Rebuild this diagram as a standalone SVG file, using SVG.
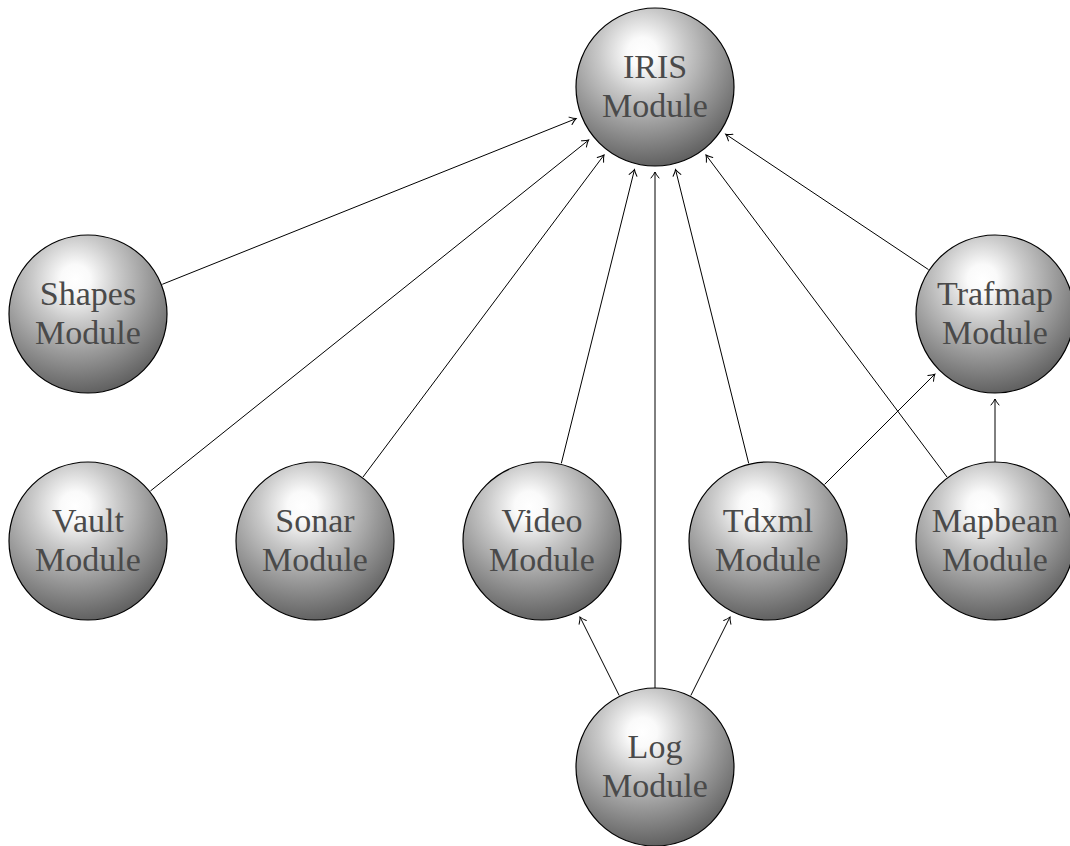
<svg xmlns="http://www.w3.org/2000/svg" width="1070" height="846" viewBox="0 0 1070 846">
<defs>
<radialGradient id="ball" cx="0.42" cy="0.28" r="0.78" fx="0.42" fy="0.28">
<stop offset="0" stop-color="#ffffff"/>
<stop offset="0.12" stop-color="#fafafa"/>
<stop offset="0.35" stop-color="#c9c9c9"/>
<stop offset="0.6" stop-color="#9b9b9b"/>
<stop offset="0.85" stop-color="#6f6f6f"/>
<stop offset="1" stop-color="#555555"/>
</radialGradient>
<marker id="arr" markerUnits="userSpaceOnUse" markerWidth="12" markerHeight="12" viewBox="-8 -6 10 12" refX="0" refY="0" orient="auto">
<path d="M -6 -4 Q -2.5 -1 0 0 Q -2.5 1 -6 4" fill="none" stroke="#000" stroke-width="1" stroke-linecap="round"/>
</marker>
<style>
.ball{fill:url(#ball);stroke:#000;stroke-width:1.2}
.lbl{font-family:"Liberation Serif","Times New Roman",serif;font-size:34px;fill:#4a4a4a;text-anchor:middle}
.edge{stroke:#000;stroke-width:1;fill:none;marker-end:url(#arr)}
</style>
</defs>
<g id="connectors">
<line class="edge" x1="162.3" y1="284.3" x2="576.1" y2="118.6"/>
<line class="edge" x1="150.4" y1="491.0" x2="588.6" y2="140.1"/>
<line class="edge" x1="363.0" y1="477.0" x2="604.0" y2="155.0"/>
<line class="edge" x1="561.3" y1="463.4" x2="634.5" y2="169.5"/>
<line class="edge" x1="655" y1="688" x2="655" y2="172"/>
<line class="edge" x1="748.7" y1="463.4" x2="675.5" y2="169.5"/>
<line class="edge" x1="947.0" y1="477.0" x2="706.0" y2="155.0"/>
<line class="edge" x1="928.5" y1="269.6" x2="725.7" y2="134.2"/>
<line class="edge" x1="824.6" y1="484.4" x2="934.9" y2="374.1"/>
<line class="edge" x1="995" y1="462" x2="995" y2="399"/>
<line class="edge" x1="619.2" y1="695.5" x2="580.0" y2="617.0"/>
<line class="edge" x1="690.8" y1="695.5" x2="730.0" y2="617.0"/>
</g>
<g id="iris"><circle class="ball" cx="655" cy="87" r="79"/><text class="lbl" x="655" y="78">IRIS</text><text class="lbl" x="655" y="117">Module</text></g>
<g id="shapes"><circle class="ball" cx="88" cy="314" r="79"/><text class="lbl" x="88" y="305">Shapes</text><text class="lbl" x="88" y="344">Module</text></g>
<g id="trafmap"><circle class="ball" cx="995" cy="314" r="79"/><text class="lbl" x="995" y="305">Trafmap</text><text class="lbl" x="995" y="344">Module</text></g>
<g id="vault"><circle class="ball" cx="88" cy="541" r="79"/><text class="lbl" x="88" y="532">Vault</text><text class="lbl" x="88" y="571">Module</text></g>
<g id="sonar"><circle class="ball" cx="315" cy="541" r="79"/><text class="lbl" x="315" y="532">Sonar</text><text class="lbl" x="315" y="571">Module</text></g>
<g id="video"><circle class="ball" cx="542" cy="541" r="79"/><text class="lbl" x="542" y="532">Video</text><text class="lbl" x="542" y="571">Module</text></g>
<g id="tdxml"><circle class="ball" cx="768" cy="541" r="79"/><text class="lbl" x="768" y="532">Tdxml</text><text class="lbl" x="768" y="571">Module</text></g>
<g id="mapbean"><circle class="ball" cx="995" cy="541" r="79"/><text class="lbl" x="995" y="532">Mapbean</text><text class="lbl" x="995" y="571">Module</text></g>
<g id="log"><circle class="ball" cx="655" cy="767" r="79"/><text class="lbl" x="655" y="758">Log</text><text class="lbl" x="655" y="797">Module</text></g>
</svg>
